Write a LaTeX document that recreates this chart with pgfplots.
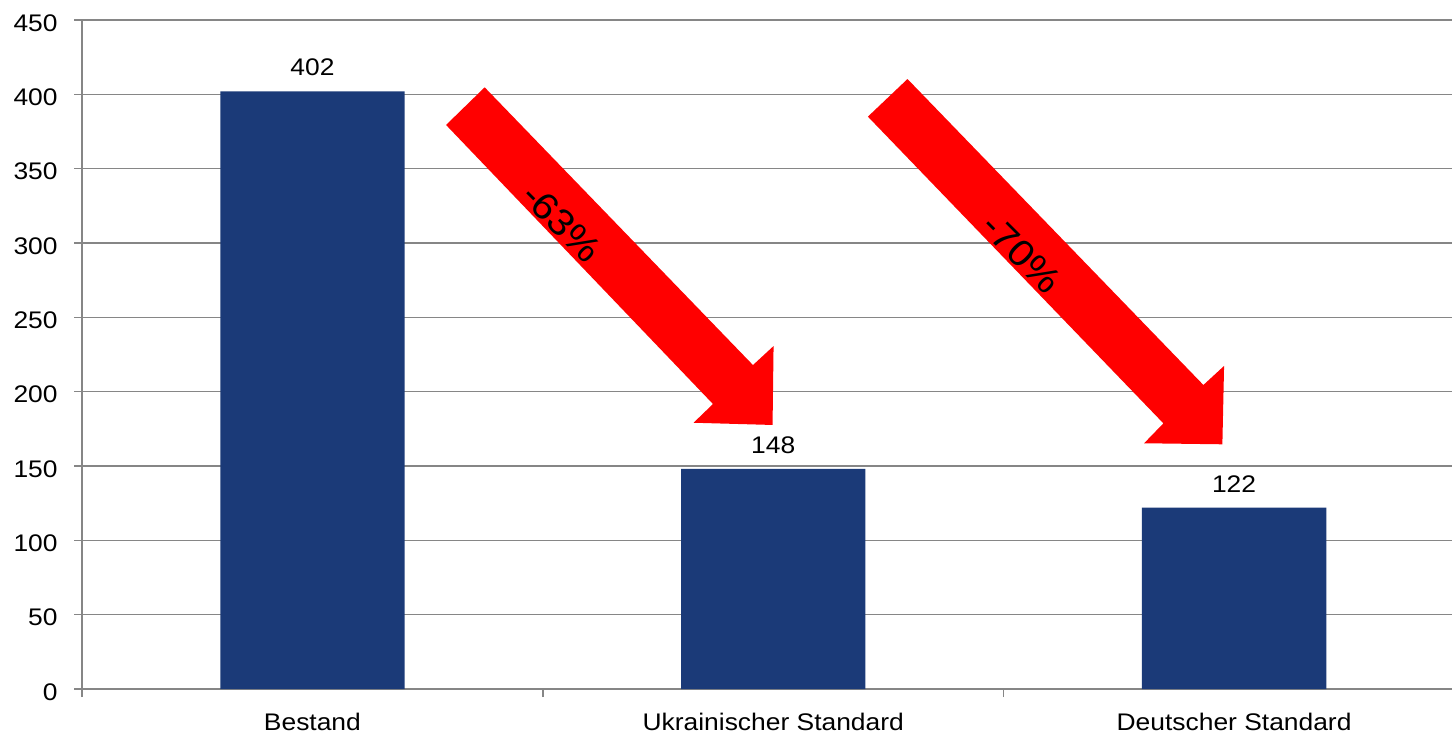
\documentclass[border=0pt]{standalone}
\usepackage{fontspec}
\setmainfont{Liberation Sans}[FakeStretch=1.1]
\usepackage{pgfplots}
\pgfplotsset{compat=1.18}
\definecolor{barblue}{RGB}{27,58,120}
\definecolor{gridgray}{RGB}{134,134,134}
\pgfplotsset{/pgf/number format/assume math mode=true}
\begin{document}
\begin{tikzpicture}
\useasboundingbox (0,0) rectangle (726pt,367.5pt);
\begin{axis}[
  at={(41pt,23pt)}, anchor=south west,
  scale only axis, width=685pt, height=334.5pt,
  xmin=-0.5, xmax=2.4729, ymin=0, ymax=450,
  axis lines*=left,
  axis line style={-, draw=gridgray, line width=0.75pt},
  tick style={draw=gridgray, line width=0.75pt},
  tick align=outside,
  major tick length=4pt,
  minor tick length=4pt,
  xtick={0,1,2},
  xticklabels={Bestand, Ukrainischer Standard, Deutscher Standard},
  major x tick style={draw=none},
  minor xtick={-0.5,0.5,1.5},
  ytick={0,50,...,450},
  ymajorgrids,
  grid style={draw=gridgray, line width=0.75pt},
  every tick label/.append style={font=\fontsize{12}{14}\selectfont, text=black},
  yticklabel style={anchor=east, inner sep=0pt, xshift=-8pt, yshift=-1.5pt},
  xticklabel style={anchor=north, inner sep=0pt, yshift=-8pt},
  ybar, bar width=0.4,
  nodes near coords,
  nodes near coords style={font=\fontsize{12}{14}\selectfont, anchor=south, inner sep=0pt, yshift=7.5pt, text=black},
]
\addplot[fill=barblue, draw=none] coordinates {(0,402) (1,148) (2,122)};
\fill[red] (axis cs:0.3738,404.7) -- (axis cs:0.9560,217.9) -- (axis cs:1.0007,230.7)
  -- (axis cs:0.9985,177.6) -- (axis cs:0.8271,179.1) -- (axis cs:0.8692,191.7)
  -- (axis cs:0.2900,379.4) -- cycle;
\fill[red] (axis cs:1.2913,410.3) -- (axis cs:1.9334,204.5) -- (axis cs:1.9783,217.3)
  -- (axis cs:1.9746,164.6) -- (axis cs:1.8048,165.3) -- (axis cs:1.8466,178.7)
  -- (axis cs:1.2054,385.0) -- cycle;
\node[rotate=-45, font=\fontsize{18.5}{20}\selectfont] at (axis cs:0.5416,313.5) {-63\%};
\node[rotate=-45, font=\fontsize{18.5}{20}\selectfont] at (axis cs:1.5395,293.1) {-70\%};
\end{axis}
\end{tikzpicture}
\end{document}
